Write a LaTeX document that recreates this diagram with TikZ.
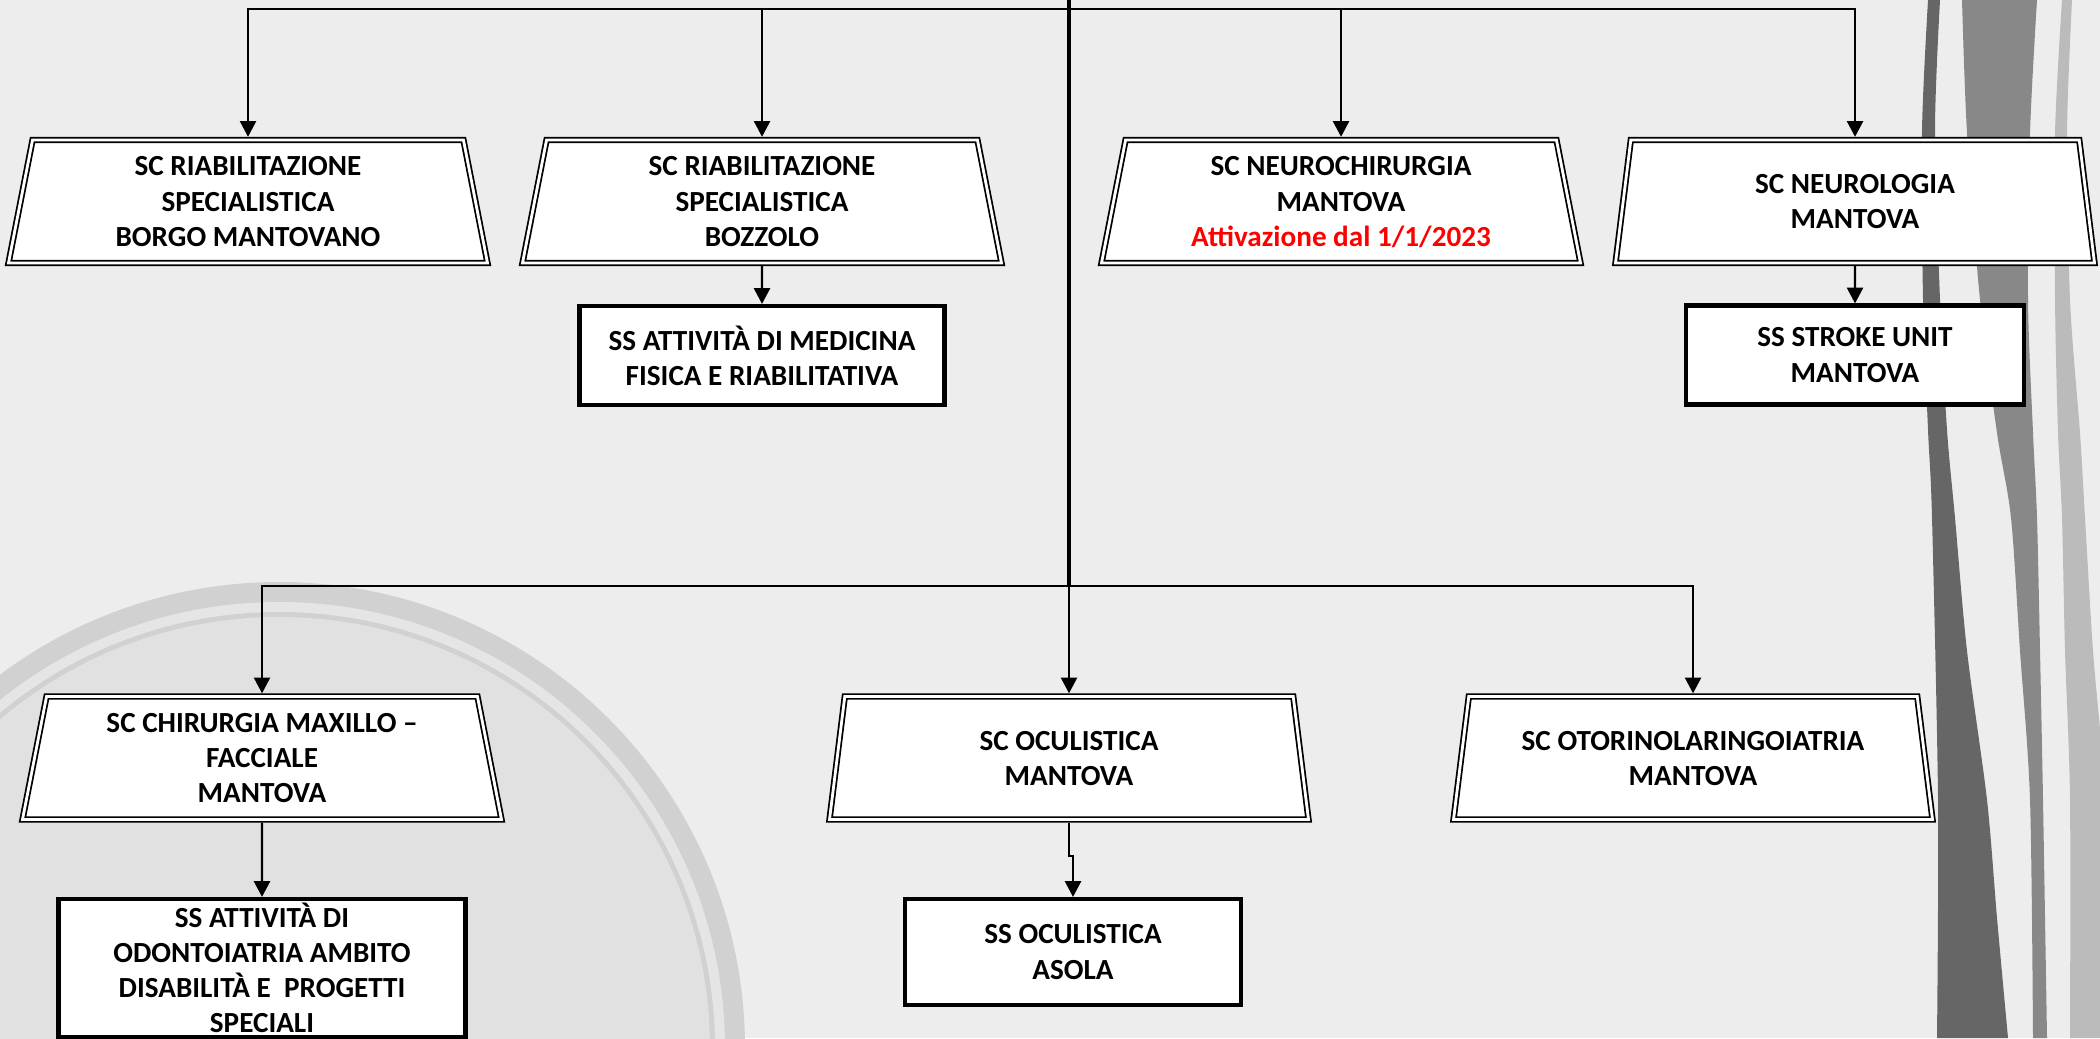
\documentclass[tikz,border=0pt]{standalone}
\usepackage{fontspec}
\setmainfont{Carlito}
\usetikzlibrary{arrows.meta, shapes.geometric}
\definecolor{bgcolor}{RGB}{237,237,237}
\definecolor{ringcolor}{RGB}{209,209,209}
\definecolor{ringgap}{RGB}{229,229,229}
\definecolor{ringfill}{RGB}{225,225,225}
\definecolor{stripe1}{RGB}{102,102,102}
\definecolor{stripe2}{RGB}{136,136,136}
\definecolor{stripe3}{RGB}{187,187,187}
\tikzset{
  sc/.style={trapezium, trapezium left angle=76, trapezium right angle=76, trapezium stretches body,
    draw=black, line width=0.5pt, double=white, double distance=0.8pt, fill=white,
    minimum width=47.9mm, minimum height=12.3mm, inner sep=1pt, outer sep=0.9pt,
    align=center, font=\fontsize{8.3}{10}\selectfont\bfseries, text depth=-2.2pt},
  ss/.style={rectangle, draw=black, line width=1.2pt, fill=white, minimum height=9.9mm,
    inner sep=1pt, align=center, font=\fontsize{8.3}{10}\selectfont\bfseries},
  arr/.style={-{Triangle[length=4.5pt,width=4.6pt]}, line width=0.6pt},
  trunk/.style={line width=1pt}
}
\begin{document}
\begin{tikzpicture}[x=0.1mm, y=-0.1mm]
                \useasboundingbox (0,0) rectangle (2100,1038);
                \fill[bgcolor] (0,0) rectangle (2100,1038);

                \fill[ringcolor] (279,1048) circle (466);
                \fill[ringgap] (279,1048) circle (446);
                \fill[ringcolor] (279,1048) circle (436);
                \fill[ringfill] (279,1048) circle (431);

                \fill[stripe1] plot[smooth] coordinates {(1928,0) (1922,130) (1923,300) (1928,430) (1932,518) (1938,800) (1937,1038)}
                  -- plot[smooth] coordinates {(2008,1038) (1997,918) (1987,800) (1967,651) (1955,518) (1947,430) (1940,300) (1935,130) (1940,0)} -- cycle;
                \fill[stripe2] plot[smooth] coordinates {(1962,0) (1967,133) (1980,300) (1997,433) (2011,518) (2020,651) (2030,800) (2033,1038)}
                  -- plot[smooth] coordinates {(2047,1038) (2043,800) (2040,651) (2037,518) (2033,433) (2028,300) (2030,133) (2037,0)} -- cycle;
                \fill[stripe3] plot[smooth] coordinates {(2062,0) (2055,133) (2055,300) (2058,433) (2062,518) (2065,651) (2070,800) (2070,1038)}
                  -- plot[smooth] coordinates {(2110,1038) (2105,800) (2093,651) (2085,518) (2080,433) (2070,300) (2067,133) (2072,0)} -- cycle;

                \coordinate (top) at (1069,0);
                \coordinate (bus1) at (1069,9);
                \coordinate (bus2) at (1069,586);

                \node[sc] (rbm) at (248,201.5) {SC RIABILITAZIONE\\SPECIALISTICA\\BORGO MANTOVANO};
                \node[sc] (rbz) at (762,201.5) {SC RIABILITAZIONE\\SPECIALISTICA\\BOZZOLO};
                \node[sc] (nch) at (1341,201.5) {SC NEUROCHIRURGIA\\MANTOVA\\\textcolor{red}{Attivazione dal 1/1/2023}};
                \node[sc] (nlg) at (1855,201.5) {SC NEUROLOGIA\\MANTOVA};

                \node[ss, minimum width=36.5mm] (mfr) at (762,355.5) {SS ATTIVITÀ DI MEDICINA\\FISICA E RIABILITATIVA};
                \node[ss, minimum width=33.8mm] (stu) at (1855,355) {SS STROKE UNIT\\MANTOVA};

                \node[sc] (cmf) at (262,758) {SC CHIRURGIA MAXILLO –\\FACCIALE\\MANTOVA};
                \node[sc] (ocu) at (1069,758) {SC OCULISTICA\\MANTOVA};
                \node[sc] (orl) at (1693,758) {SC OTORINOLARINGOIATRIA\\MANTOVA};

                \node[ss, minimum width=40.7mm, minimum height=13.8mm] (odo) at (262,968) {SS ATTIVITÀ DI\\ODONTOIATRIA AMBITO\\DISABILITÀ E~ PROGETTI\\SPECIALI};
                \node[ss, minimum width=33.6mm, minimum height=10.6mm] (oas) at (1073,952) {SS OCULISTICA\\ASOLA};

                \draw[trunk] (top) -- (bus2);
                \foreach \n in {rbm,rbz,nch,nlg}
                \draw[arr] (bus1) -| (\n.north);
                \foreach \n in {cmf,ocu,orl}
                \draw[arr] (bus2) -| (\n.north);

                \draw[arr] (rbz.south) -- (mfr.north);
                \draw[arr] (nlg.south) -- (stu.north);
                \draw[arr] (cmf.south) -- (odo.north);
                \draw[arr] (ocu.south) -- ++(0,33) -| (oas.north);

            \end{tikzpicture}
\end{document}
